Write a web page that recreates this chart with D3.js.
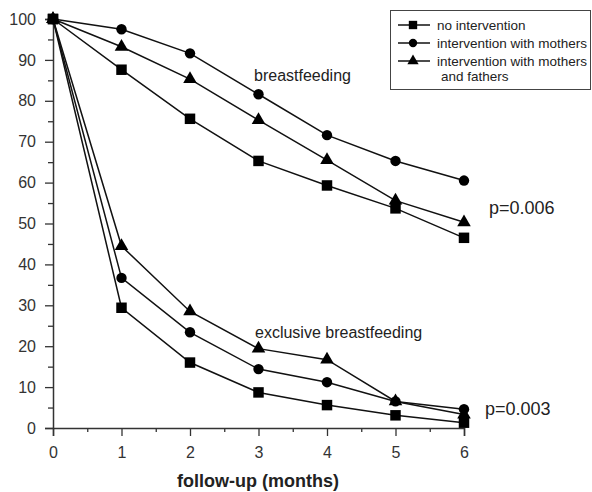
<!DOCTYPE html>
<html>
<head>
<meta charset="utf-8">
<script src="https://cdn.jsdelivr.net/npm/d3@7"></script>
<style>
body{margin:0;background:#fff;}
svg{display:block;font-family:"Liberation Sans",Arial,sans-serif;}
</style>
</head>
<body>
<div id="app"></div>
<script>
const months = [0,1,2,3,4,5,6];
const yTicks = [0,10,20,30,40,50,60,70,80,90,100];

// breastfeeding
const bfNone = [100,87.6,75.6,65.3,59.3,53.7,46.5];
const bfMothers = [100,97.5,91.6,81.6,71.6,65.3,60.5];
const bfParents = [100,93.2,85.3,75.3,65.5,55.6,50.3];
// exclusive breastfeeding
const exNone = [100,29.4,16.0,8.7,5.6,3.1,1.3];
const exMothers = [100,36.7,23.4,14.4,11.2,6.5,4.6];
const exParents = [100,44.5,28.5,19.4,16.7,6.5,3.3];

const legendLabels = ["no intervention","intervention with mothers",["intervention with mothers","and fathers"]];

const W = 592, H = 492;
const svg = d3.select("#app").append("svg").attr("width",W).attr("height",H);

const x = d3.scaleLinear().domain([0,6]).range([53,464]);
const y = d3.scaleLinear().domain([0,100]).range([428,19]);
const col = "#333";

// axes
const xAx = svg.append("g").attr("transform","translate(0,"+y(0)+")")
	.call(d3.axisBottom(x).tickValues(months).tickSize(8).tickPadding(11).tickFormat(d3.format("d")));
const xMinor = svg.append("g").attr("transform","translate(0,"+y(0)+")")
	.call(d3.axisBottom(x).tickValues(d3.range(0.5,6,1)).tickSize(4).tickFormat(""));
const yAx = svg.append("g").attr("transform","translate("+x(0)+",0)")
	.call(d3.axisLeft(y).tickValues(yTicks).tickSize(8).tickPadding(9));
const yMinor = svg.append("g").attr("transform","translate("+x(0)+",0)")
	.call(d3.axisLeft(y).tickValues(d3.range(5,100,10)).tickSize(5).tickFormat(""));

[xAx,xMinor,yAx,yMinor].forEach(function(g){
	g.select(".domain").attr("stroke",col).attr("stroke-width",1.5);
	g.selectAll(".tick line").attr("stroke",col).attr("stroke-width",1.3);
	g.selectAll(".tick text").attr("fill",col).style("font-size","16px").style("font-family","Liberation Sans, Arial, sans-serif");
});
xMinor.select(".domain").remove();
yMinor.select(".domain").remove();

svg.append("text").attr("x",258).attr("y",487).attr("text-anchor","middle")
	.attr("fill","#222").style("font-size","18px").style("font-weight","bold")
	.text("follow-up (months)");

const line = d3.line().x(function(d,i){return x(months[i]);}).y(function(d){return y(d);});

const sym = {
	square: d3.symbol().type(d3.symbolSquare).size(110),
	circle: d3.symbol().type(d3.symbolCircle).size(85),
	triangle: d3.symbol().type(d3.symbolTriangle).size(80)
};

const series = [
	{v:bfNone,s:"square"},{v:bfMothers,s:"circle"},{v:bfParents,s:"triangle"},
	{v:exNone,s:"square"},{v:exMothers,s:"circle"},{v:exParents,s:"triangle"}
];

series.forEach(function(sr){
	svg.append("path").datum(sr.v).attr("d",line)
		.attr("fill","none").attr("stroke","#111").attr("stroke-width",1.5);
});
series.forEach(function(sr){
	svg.append("g").selectAll("path").data(sr.v).enter().append("path")
		.attr("transform",function(d,i){return "translate("+x(months[i])+","+y(d)+")";})
		.attr("d",sym[sr.s]()).attr("fill","#000");
});

// annotations
const ann = [
	{t:"breastfeeding",x:254,y:81,fs:16},
	{t:"exclusive breastfeeding",x:255,y:338,fs:16},
	{t:"p=0.006",x:489,y:214,fs:18},
	{t:"p=0.003",x:485,y:415,fs:18}
];
svg.selectAll("text.ann").data(ann).enter().append("text").attr("class","ann")
	.attr("x",function(d){return d.x;}).attr("y",function(d){return d.y;})
	.attr("fill","#222").style("font-size",function(d){return d.fs+"px";})
	.text(function(d){return d.t;});

// legend
const lg = svg.append("g");
lg.append("rect").attr("x",390.5).attr("y",10.5).attr("width",200).attr("height",79)
	.attr("fill","#fff").attr("stroke","#444").attr("stroke-width",1);
const rowsY = [25,43,61];
const syms = ["square","circle","triangle"];
legendLabels.forEach(function(lab,i){
	const ry = rowsY[i];
	lg.append("line").attr("x1",398).attr("x2",430).attr("y1",ry).attr("y2",ry)
		.attr("stroke","#111").attr("stroke-width",1.5);
	lg.append("path").attr("transform","translate(413,"+ry+")")
		.attr("d",d3.symbol().type(syms[i]=="square"?d3.symbolSquare:syms[i]=="circle"?d3.symbolCircle:d3.symbolTriangle).size(syms[i]=="square"?70:55)())
		.attr("fill","#000");
	const lines = Array.isArray(lab) ? lab : [lab];
	lines.forEach(function(t,j){
		lg.append("text").attr("x",437+(j>0?4:0)).attr("y",ry+5+j*15)
			.attr("fill","#222").style("font-size","13.5px").text(t);
	});
});
</script>
</body>
</html>
